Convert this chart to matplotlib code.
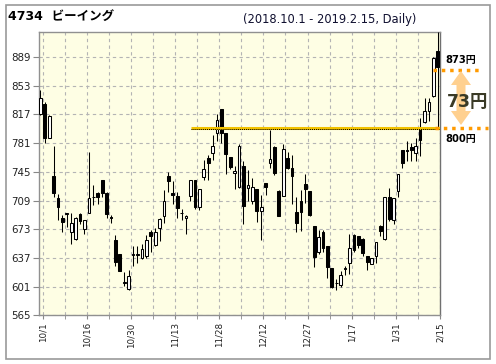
import numpy as np
import matplotlib.pyplot as plt
from matplotlib.patches import Rectangle, Polygon

# daily candles 2018-10-01 .. 2019-02-15 (91 trading days)
opens = [817, 830, 788, 740, 712, 687, 692.5, 670, 661, 692,
         673, 693, 714, 719, 735, 719, 688.5, 660, 642, 606,
         598, 641, 641, 637, 639, 669, 653, 675, 690, 740,
         719, 715, 693, 687, 715, 735, 701, 739, 762, 769,
         794, 824, 794, 763, 743, 726, 752, 725, 708, 723,
         696, 731, 756, 776, 721.5, 715, 762, 749.5, 695, 709,
         730, 721, 677, 645, 670, 652, 624, 605, 603, 622.5,
         630, 666, 664, 661, 639, 629, 640, 677, 661, 713,
         684, 721, 772, 772, 776, 769, 799, 808, 821, 840,
         896]
highs = [848, 832, 816, 777, 717, 691, 693, 693, 688, 693,
         685, 770, 729, 720, 735, 720, 691, 666, 642, 619,
         622, 652, 652, 655, 666, 672, 675, 687, 722, 745,
         733, 720, 698, 691, 735, 735, 724, 760, 766, 791,
         818, 824, 794, 764, 752, 780, 758, 747, 737, 723,
         716, 731, 798, 777, 722, 780, 770, 766, 714, 722,
         742, 721, 677, 672, 672, 652, 624, 610, 621, 626.5,
         667, 667, 665, 662, 640, 637, 657, 678, 714, 725,
         712, 742, 772, 784, 781, 788, 812, 837, 838, 889,
         920]
lows = [816, 781, 787, 713, 685, 670, 676, 655, 660, 680,
        667, 693, 703, 704, 713, 687, 681, 627, 621, 602,
        597, 627, 631, 636, 637, 645, 652, 658, 681, 720,
        705, 687, 685, 667, 708, 698, 697, 735, 735, 760,
        784, 781, 742, 748, 724, 725, 680, 708, 705, 682,
        660, 716, 750, 741, 689, 715, 748, 705, 670, 671,
        706, 690, 625, 642, 645, 612, 599, 597, 601, 616,
        617, 645, 650, 640, 622, 629, 630, 664, 660, 683,
        680, 713, 750, 758, 758, 758, 765, 806.5, 809, 839,
        800]
closes = [837, 787, 815, 719, 701, 682, 693, 681, 687, 683,
          685, 712, 713, 713, 719, 692, 687.5, 632, 621, 607,
          614, 641.5, 641.5, 648, 659, 665, 669, 686, 709, 734,
          716, 700, 692.5, 690, 735, 701, 724, 748, 756, 777,
          810, 794, 767, 751, 746.5, 777, 702, 728, 726, 696,
          700.5, 726, 761, 743, 689.5, 774, 750, 740, 681, 695,
          723, 690.5, 638, 663, 650, 625, 601, 606, 615, 624,
          650, 647.5, 653, 643, 632, 637, 657, 671, 714, 686,
          712, 742, 756, 770.5, 772, 777, 785.5, 821, 833, 888,
          876]

date_labels = ["10/1", "10/16", "10/30", "11/13", "11/28",
               "12/12", "12/27", "1/17", "1/31", "2/15"]
y_ticks = [565, 601, 637, 673, 709, 745, 781, 817, 853, 889]

support = 800
latest = 873
support_start = 34.2

W, H = 496, 364
fig = plt.figure(figsize=(W / 100, H / 100), dpi=100)
ax = fig.add_axes([39 / W, 1 - 315.3 / H, 401 / W, (315.3 - 32.3) / H])
ax.set_facecolor('#FEFEE4')

o = np.array(opens)
c = np.array(closes)
x = np.arange(len(o))
up = c >= o

ax.vlines(x, lows, highs, color='black', lw=0.75, zorder=3)
body = np.where(np.abs(c - o) < 0.6, 0.6, c - o)
ax.bar(x, body, bottom=o, width=0.62,
       color=np.where(up, 'white', 'black'), edgecolor='black', lw=0.75, zorder=4)

ax.set_xlim(-0.3, 90.5)
ax.set_ylim(565, 920)

major = np.arange(0, 91, 10) + 0.5
minor = np.arange(5, 91, 10) + 0.5
ax.set_xticks(major)
ax.set_xticklabels(date_labels, rotation=90, fontsize=6.3, color='#222222')
ax.set_xticks(minor, minor=True)
ax.set_yticks(y_ticks)
ax.set_yticklabels([str(v) for v in y_ticks], fontsize=7.4, color='#222222')
ax.tick_params(axis='both', which='both', direction='out', length=3,
               color='#888888', pad=2)
ax.tick_params(axis='y', length=4)

ax.grid(True, which='both', color='#B4B4B4', lw=0.8, linestyle=(0, (3, 3)))
ax.set_axisbelow(True)
for s in ax.spines.values():
    s.set_color('#909090')
    s.set_linewidth(1.0)
ax.spines['right'].set_color('#707070')

# support line at 800
ax.plot([support_start, 90.5], [support, support], color='#F2C200', lw=2.2,
        zorder=5, solid_capstyle='butt')
ax.plot([support_start, 90.5], [support - 1.5, support - 1.5], color='black',
        lw=0.7, linestyle=(0, (1, 1)), zorder=5)

# orange dotted markers outside the plot
ax.plot([89.3, 101.3], [support, support], color='#FF9A00', lw=2.5,
        linestyle=(0, (1, 1.4)), clip_on=False, zorder=6)
ax.plot([89.0, 99.8], [latest, latest], color='#FF9A00', lw=2.5,
        linestyle=(0, (1, 1.4)), clip_on=False, zorder=6)

# double arrow between the two levels (figure pixels, origin top-left)
cx, top, bot, shaft, head, hl = 461, 71, 125, 4.5, 10, 14
arrow_px = [(cx, top), (cx + head, top + hl), (cx + shaft, top + hl),
            (cx + shaft, bot - hl), (cx + head, bot - hl), (cx, bot),
            (cx - head, bot - hl), (cx - shaft, bot - hl), (cx - shaft, top + hl),
            (cx - head, top + hl)]
fig.add_artist(Polygon([(px / W, 1 - py / H) for px, py in arrow_px], closed=True,
                       transform=fig.transFigure, facecolor='#FFD08F',
                       edgecolor='none', zorder=6))

jp = ['DejaVu Sans', 'Noto Sans CJK JP']
ax.text(91.8, 885.5, f'{latest}円', fontsize=7.2, fontweight='bold', family=jp,
        color='black', va='center', ha='left', clip_on=False)
ax.text(91.8, 786.5, f'{support}円', fontsize=7.2, fontweight='bold', family=jp,
        color='black', va='center', ha='left', clip_on=False)
fig.text(468 / W, 1 - 102 / H, f'{latest - support}円', fontsize=12.5, fontweight='bold',
         family=jp, color='#3A3A26', va='center', ha='center', zorder=8)

fig.text(8 / W, 1 - 16 / H, '4734  ビーイング', fontsize=9, fontweight='bold',
         family=jp, va='center', ha='left')
fig.text(243 / W, 1 - 19 / H, '(2018.10.1 - 2019.2.15, Daily)', fontsize=8.3,
         color='#101030', va='center', ha='left')

fig.add_artist(Rectangle((6 / W, 1 - 359 / H), 484 / W, 354 / H, transform=fig.transFigure,
                         fill=False, edgecolor='#999999', lw=1.2))

fig.savefig('out.png', dpi=100)
